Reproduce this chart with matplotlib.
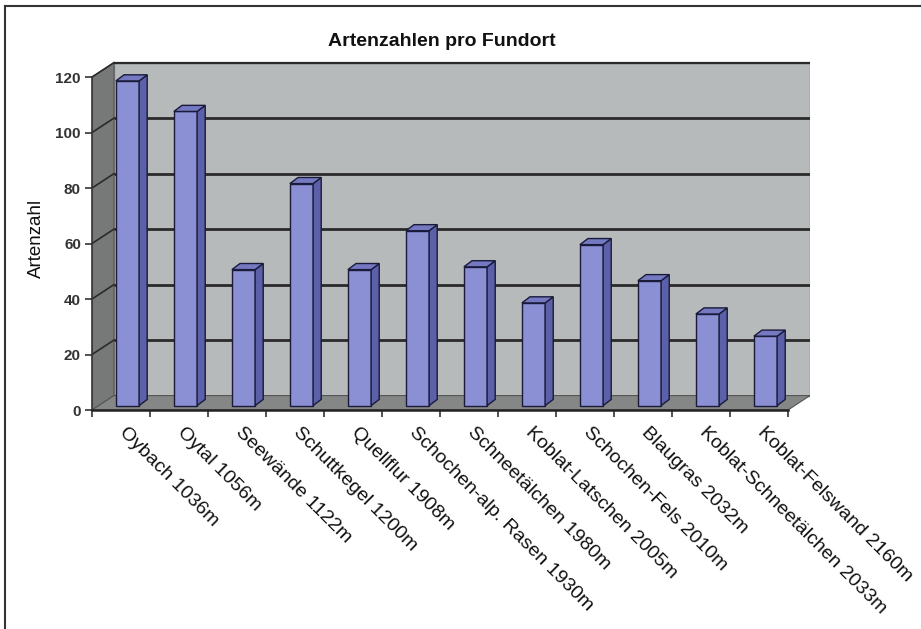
import matplotlib.pyplot as plt
from matplotlib.patches import Polygon
from matplotlib.lines import Line2D

plt.rcParams['font.family'] = ['Liberation Sans', 'DejaVu Sans']

# Data
fundorte = [
    'Oybach 1036m', 'Oytal 1056m', 'Seewände 1122m', 'Schuttkegel 1200m',
    'Quellflur 1908m', 'Schochen-alp. Rasen 1930m', 'Schneetälchen 1980m',
    'Koblat-Latschen 2005m', 'Schochen-Fels 2010m', 'Blaugras 2032m',
    'Koblat-Schneetälchen 2033m', 'Koblat-Felswand 2160m'
]
artenzahl = [117, 106, 49, 80, 49, 63, 50, 37, 58, 45, 33, 25]
y_ticks = [0, 20, 40, 60, 80, 100, 120]

# 3D look parameters (data units)
DX, DY = 0.379, 5.2        # depth of the box
BDX, BDY = 0.14, 2.2       # depth of a bar
B0 = 1.6                   # bars stand a bit behind the front edge
BX = 0.112                 # matching x shift
BW = 0.4                   # bar width
YMAX = 120
n = len(fundorte)

fig = plt.figure(figsize=(9.21, 6.29), dpi=100)
ax = fig.add_axes([92 / 921, (629 - 410) / 629, 718 / 921, 349.6 / 629])
ax.set_xlim(-0.5, n - 0.5 + DX)
ax.set_ylim(0, 126)
ax.set_facecolor('none')

wall_c = '#b6baba'
side_c = '#777979'
floor_c = '#858787'
grid_c = '#2a2a2a'

# back wall
ax.add_patch(Polygon([(-0.5 + DX, DY), (n - 0.5 + DX, DY), (n - 0.5 + DX, YMAX + DY),
                      (-0.5 + DX, YMAX + DY)], closed=True, facecolor=wall_c,
                     edgecolor='#8a8a8a', lw=1, zorder=0))
# side wall
ax.add_patch(Polygon([(-0.5, 0), (-0.5 + DX, DY), (-0.5 + DX, YMAX + DY), (-0.5, YMAX)],
                     closed=True, facecolor=side_c, edgecolor='#555555', lw=0.8, zorder=0))
# floor
ax.add_patch(Polygon([(-0.5, 0), (n - 0.5, 0), (n - 0.5 + DX, DY), (-0.5 + DX, DY)],
                     closed=True, facecolor=floor_c, edgecolor='#555555', lw=0.8, zorder=0.5))

# gridlines on back and side wall
for v in y_ticks[1:]:
    lw = 2.0 if v < YMAX else 1.6
    ax.plot([-0.5 + DX, n - 0.5 + DX], [v + DY, v + DY], color=grid_c, lw=lw, zorder=1,
            solid_capstyle='butt')
    ax.plot([-0.5, -0.5 + DX], [v, v + DY], color=grid_c, lw=1.2, zorder=1)

# bars: front faces
xs = [i + BX for i in range(n)]
front_c = '#8b8fd4'
side_bar_c = '#5b60a8'
top_bar_c = '#7479c2'
edge_c = '#1a1a3a'
ax.bar(xs, artenzahl, width=BW, bottom=B0, color=front_c, edgecolor=edge_c,
       linewidth=1.0, zorder=3)
for x, v in zip(xs, artenzahl):
    xl, xr = x - BW / 2, x + BW / 2
    top = v + B0
    ax.add_patch(Polygon([(xr, B0), (xr + BDX, B0 + BDY), (xr + BDX, top + BDY), (xr, top)],
                         closed=True, facecolor=side_bar_c, edgecolor=edge_c, lw=1.0, zorder=3))
    ax.add_patch(Polygon([(xl, top), (xl + BDX, top + BDY), (xr + BDX, top + BDY), (xr, top)],
                         closed=True, facecolor=top_bar_c, edgecolor=edge_c, lw=1.0, zorder=3))

# axes
for s in ['top', 'right']:
    ax.spines[s].set_visible(False)
ax.spines['left'].set_bounds(0, YMAX)
ax.spines['left'].set_color('#333333')
ax.spines['left'].set_linewidth(1.2)
ax.spines['left'].set_zorder(2)
ax.spines['bottom'].set_bounds(-0.5, n - 0.5)
ax.spines['bottom'].set_color('#222222')
ax.spines['bottom'].set_linewidth(1.8)

ax.set_yticks(y_ticks)
ax.set_yticklabels([str(v) for v in y_ticks], fontsize=11, fontweight='bold', color='#333333')
ax.tick_params(axis='y', length=5, width=1.2, color='#333333', pad=3)

ax.set_xticks([i - 0.5 for i in range(n + 1)])
ax.set_xticklabels([])
ax.tick_params(axis='x', which='major', length=5, width=1.2, color='#333333')
# category labels, anchored a little right of the slot centre
ax.set_xticks([i + 0.12 for i in range(n)], minor=True)
ax.set_xticklabels(fundorte, minor=True, fontsize=14, color='#111111')
ax.tick_params(axis='x', which='minor', length=0, pad=10)
plt.setp(ax.get_xticklabels(minor=True), rotation=-45, ha='left', va='top',
         rotation_mode='anchor')

fig.text(36 / 921, 1 - 238 / 629, 'Artenzahl', rotation=90, fontsize=13.5,
         ha='center', va='center', color='#111111')
fig.text(442 / 921, 1 - 41 / 629, 'Artenzahlen pro Fundort', fontsize=14,
         fontweight='bold', ha='center', va='center', color='#111111')

# outer frame (only top and left visible)
fig.add_artist(Line2D([5 / 921, 5 / 921], [0, 1 - 6 / 629], color='#333333', lw=1.5))
fig.add_artist(Line2D([5 / 921, 1], [1 - 6 / 629, 1 - 6 / 629], color='#333333', lw=1.5))

fig.savefig('out.png', dpi=100)
